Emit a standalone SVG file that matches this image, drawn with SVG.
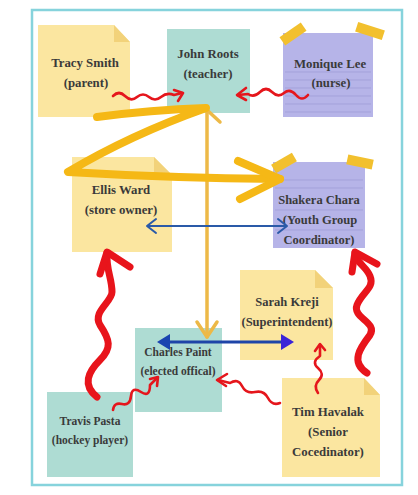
<svg xmlns="http://www.w3.org/2000/svg" width="418" height="495" viewBox="0 0 418 495">
<defs>
<style>
.y{fill:#FBE6A0}
.yf{fill:#F2D27A}
.t{fill:#AEDCD3}
.l{fill:#B6B4E8}
.ln{stroke:#A3A1DA;stroke-width:1}
.tape{fill:#F2C02E}
text{font-family:"Liberation Serif","Times New Roman",serif;font-weight:bold;fill:#3a3a3a;text-anchor:middle}
.rt{fill:none;stroke:#E5161C;stroke-width:2.6;stroke-linecap:round;stroke-linejoin:round}
.rT{fill:none;stroke:#E8141B;stroke-width:7;stroke-linecap:round;stroke-linejoin:round}
.yl{fill:none;stroke:#F5B816;stroke-width:8;stroke-linecap:round;stroke-linejoin:round}
.yv{fill:none;stroke:#EDB947;stroke-width:3.5;stroke-linecap:round;stroke-linejoin:round}
</style>
</defs>
<rect x="0" y="0" width="418" height="495" fill="#ffffff"/>
<rect x="32" y="10" width="370" height="475" fill="#ffffff" stroke="#86D3DC" stroke-width="2.5"/>

<g id="tracy">
<polygon class="y" points="38,25 114,25 130,42 130,117 38,117"/>
<polygon class="yf" points="114,25 130,42 114,42"/>
<text x="85" y="67" font-size="12.8">Tracy Smith</text>
<text x="86" y="87" font-size="12.8">(parent)</text>
</g>
<g id="john">
<rect class="t" x="167" y="29" width="83" height="84"/>
<text x="208" y="58" font-size="12.8">John Roots</text>
<text x="208" y="78" font-size="12.8">(teacher)</text>
</g>
<g id="monique">
<rect class="l" x="283" y="33" width="90" height="84"/>
<line class="ln" x1="285" y1="72" x2="371" y2="72"/>
<line class="ln" x1="285" y1="80" x2="371" y2="80"/>
<line class="ln" x1="285" y1="88" x2="371" y2="88"/>
<line class="ln" x1="285" y1="96" x2="371" y2="96"/>
<line class="ln" x1="285" y1="104" x2="371" y2="104"/>
<line class="ln" x1="285" y1="112" x2="371" y2="112"/>
<rect class="tape" x="280" y="29" width="26" height="10" transform="rotate(-35 293 34)"/>
<rect class="tape" x="356" y="26" width="28" height="10" transform="rotate(18 370 31)"/>
<text x="330" y="68" font-size="12.8">Monique Lee</text>
<text x="331" y="87" font-size="12.8">(nurse)</text>
</g>
<g id="ellis">
<polygon class="y" points="72,157 154,157 172,175 172,252 72,252"/>
<polygon class="yf" points="154,157 172,175 154,175"/>
<text x="121" y="194" font-size="12.8">Ellis Ward</text>
<text x="121" y="214" font-size="12.8">(store owner)</text>
</g>
<g id="shakera">
<rect class="l" x="273" y="162" width="92" height="86"/>
<line class="ln" x1="275" y1="180" x2="363" y2="180"/>
<line class="ln" x1="275" y1="188" x2="363" y2="188"/>
<line class="ln" x1="275" y1="210" x2="363" y2="210"/>
<line class="ln" x1="275" y1="230" x2="363" y2="230"/>
<rect class="tape" x="272" y="158" width="24" height="10" transform="rotate(-30 284 163)"/>
<rect class="tape" x="347" y="157" width="26" height="10" transform="rotate(12 360 162)"/>
<text x="319" y="204" font-size="12.5">Shakera Chara</text>
<text x="320" y="224" font-size="12.5">(Youth Group</text>
<text x="319" y="244" font-size="12.5">Coordinator)</text>
</g>
<g id="sarah">
<polygon class="y" points="240,270 315,270 333,288 333,360 240,360"/>
<polygon class="yf" points="315,270 333,288 315,288"/>
<text x="287" y="306" font-size="12.5">Sarah Kreji</text>
<text x="287" y="326" font-size="12.5">(Superintendent)</text>
</g>
<g id="charles">
<rect class="t" x="135" y="328" width="87" height="84"/>
<text x="178" y="356" font-size="11.5">Charles Paint</text>
<text x="178" y="375" font-size="11.5">(elected offical)</text>
</g>
<g id="travis">
<rect class="t" x="47" y="392" width="86" height="85"/>
<text x="90" y="425" font-size="11.5">Travis Pasta</text>
<text x="90" y="444" font-size="11.5">(hockey player)</text>
</g>
<g id="tim">
<polygon class="y" points="282,378 364,378 380,395 380,477 282,477"/>
<polygon class="yf" points="364,378 380,395 364,395"/>
<text x="328" y="416" font-size="12.8">Tim Havalak</text>
<text x="328" y="436" font-size="12.8">(Senior</text>
<text x="328" y="456" font-size="12.8">Cocedinator)</text>
</g>

<g id="connectors">
<path class="yv" d="M207,110 L207,337"/>
<path class="yv" d="M197,322 L207,337 L217,322"/>
<path class="yv" d="M207,110 L220,122"/>
<path class="yl" d="M97,117 Q150,110 206,108 Q130,135 68,172 Q170,178 280,179"/>
<path class="yl" d="M238,161 L280,179 L240,199"/>
<g fill="none" stroke="#2A5AA8" stroke-width="2" stroke-linecap="round" stroke-linejoin="round">
<path d="M148,226 L286,226"/>
<path d="M156,219 L147,226 L156,233"/>
<path d="M278,219 L287,226 L278,233"/>
</g>
<path d="M168,342 L283,342" stroke="#1E45A8" stroke-width="3" fill="none"/>
<polygon points="157,342 170,334 170,350" fill="#1A44B0"/>
<polygon points="294,342 281,334 281,350" fill="#3B24D8"/>
<path class="rt" d="M113,96 Q119,90 125,96 T137,97 T149,97 T161,97 T174,95 L182,93"/>
<path class="rt" d="M174,90 L183,93 L178,101"/>
<path class="rt" d="M308,95 Q302,102 296,95 T284,93 T272,92 T260,92 T248,94 L238,95"/>
<path class="rt" d="M246,88 L237,95 L246,100"/>
<path class="rt" d="M113,410 Q114,402 122,404 T131,396 T141,392 T150,385 L157,378"/>
<path class="rt" d="M150,379 L158,377 L157,386"/>
<path class="rt" d="M280,403 Q272,406 268,398 T255,392 T242,386 T230,383 L218,380"/>
<path class="rt" d="M227,374 L217,380 L226,386"/>
<path class="rt" d="M318,393 Q313,386 319,380 T318,368 T320,356 L320,345" stroke="#C93060"/>
<path class="rt" d="M315,351 L320,344 L325,350" stroke="#E5161C"/>
<path class="rT" d="M97,397 C82,385 88,372 100,360 C112,348 110,340 100,325 C92,312 112,302 112,292 C112,278 106,270 107,253"/>
<path class="rT" d="M100,274 L107,252 L130,267"/>
<path class="rT" d="M367,373 C350,362 360,348 370,335 C378,322 352,318 357,305 C362,292 375,288 370,276 C366,266 357,264 355,253"/>
<path class="rT" d="M352,272 L355,252 L377,264"/>
</g>
</svg>
